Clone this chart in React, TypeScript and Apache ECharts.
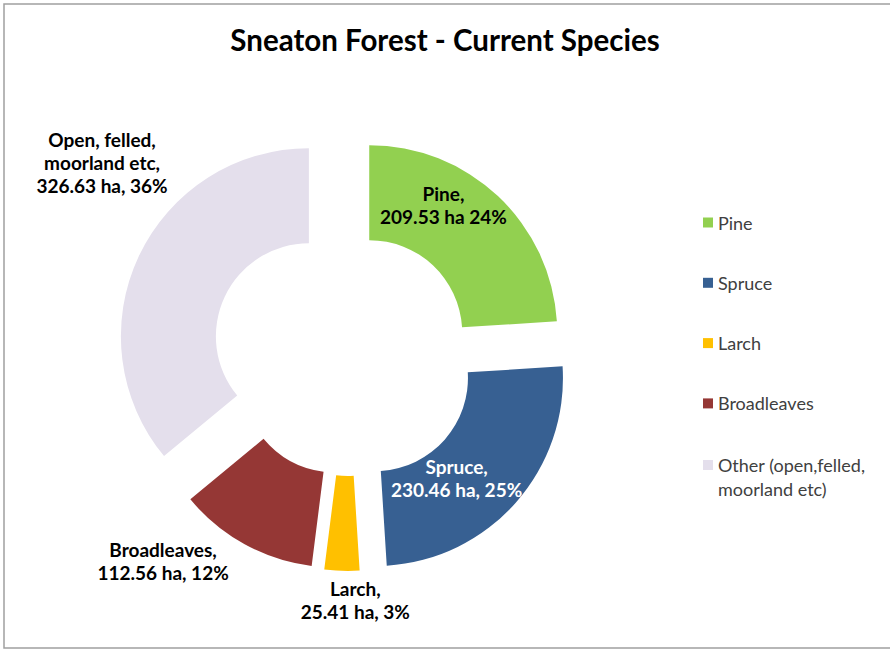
import React, { useEffect, useRef } from 'react';
import * as echarts from 'echarts';

// ---- data ----
const categories = ['Pine', 'Spruce', 'Larch', 'Broadleaves', 'Other (open,felled, moorland etc)'];
const labelNames = ['Pine', 'Spruce', 'Larch', 'Broadleaves', 'Open, felled,\nmoorland etc'];
const areaHa = [209.53, 230.46, 25.41, 112.56, 326.63];
const sharePct = [24, 25, 3, 12, 36];
const haSeparator = [' ', ', ', ', ', ', ', ', '];

// ---- styles ----
const colors = ['#92D050', '#376092', '#FFC000', '#953735', '#E4DFEC'];
const labelColors = ['#000000', '#ffffff', '#000000', '#000000', '#000000'];
const explode = [30, 35, 28, 28, 44];
const labelNudge = [
  [-24, -24],
  [-26, 5],
  [12, 74],
  [-103, 56],
  [-77, -113],
];

const FONT = 'Lato, "Open Sans", sans-serif';

export default function App() {
  const ref = useRef<HTMLDivElement>(null);

  useEffect(() => {
    if (!ref.current) return;
    const chart = echarts.init(ref.current, undefined, { renderer: 'svg' });

    const series = categories.map((_, k) => ({
      type: 'pie',
      center: [348.7, 355],
      radius: [93, 188],
      startAngle: 90,
      clockwise: true,
      selectedMode: 'multiple',
      selectedOffset: explode[k],
      emphasis: { disabled: true },
      select: { itemStyle: { borderWidth: 0 } },
      labelLine: { show: false },
      labelLayout: { dx: labelNudge[k][0], dy: labelNudge[k][1] },
      z: 2,
      data: categories.map((name, i) => ({
        name,
        value: sharePct[i],
        selected: i === k,
        itemStyle: { color: i === k ? colors[i] : 'transparent', borderWidth: 0 },
        label:
          i === k
            ? {
                show: true,
                position: 'inside',
                formatter: () =>
                  `${labelNames[i]},\n${areaHa[i].toFixed(2)} ha${haSeparator[i]}${sharePct[i]}%`,
                color: labelColors[i],
                fontFamily: FONT,
                fontWeight: 'bold',
                fontSize: 19,
                lineHeight: 23,
                align: 'center',
              }
            : { show: false },
      })),
    }));

    const legendText = {
      fontFamily: FONT,
      fontSize: 18,
      color: '#404040',
      lineHeight: 20,
    };

    chart.setOption({
      animation: false,
      backgroundColor: '#ffffff',
      title: {
        text: 'Sneaton Forest - Current Species',
        left: 'center',
        top: 19,
        textStyle: {
          fontFamily: FONT,
          fontWeight: 'bold',
          fontSize: 29.5,
          color: '#000000',
        },
      },
      legend: [
        {
          orient: 'vertical',
          left: 698,
          top: 207.5,
          itemWidth: 10,
          itemHeight: 10,
          itemGap: 40.3,
          icon: 'rect',
          selectedMode: false,
          textStyle: legendText,
          data: categories.slice(0, 4).map((name, i) => ({
            name,
            itemStyle: { color: colors[i] },
          })),
        },
        {
          orient: 'vertical',
          left: 698,
          top: 424,
          itemWidth: 10,
          itemHeight: 10,
          icon: 'rect',
          selectedMode: false,
          formatter: () => ' \nOther (open,felled,\nmoorland etc)',
          textStyle: { ...legendText, lineHeight: 24 },
          data: [{ name: categories[4], itemStyle: { color: colors[4] } }],
        },
      ],
      graphic: [
        {
          type: 'rect',
          shape: { x: 4, y: 4, width: 1000, height: 644 },
          style: { fill: 'none', stroke: '#a0a0a0', lineWidth: 1.5 },
          silent: true,
          z: -1,
        },
      ],
      series,
    });

    return () => chart.dispose();
  }, []);

  return (
    <div
      ref={ref}
      style={{ position: 'fixed', left: 0, top: 0, width: 890, height: 653 }}
    />
  );
}
